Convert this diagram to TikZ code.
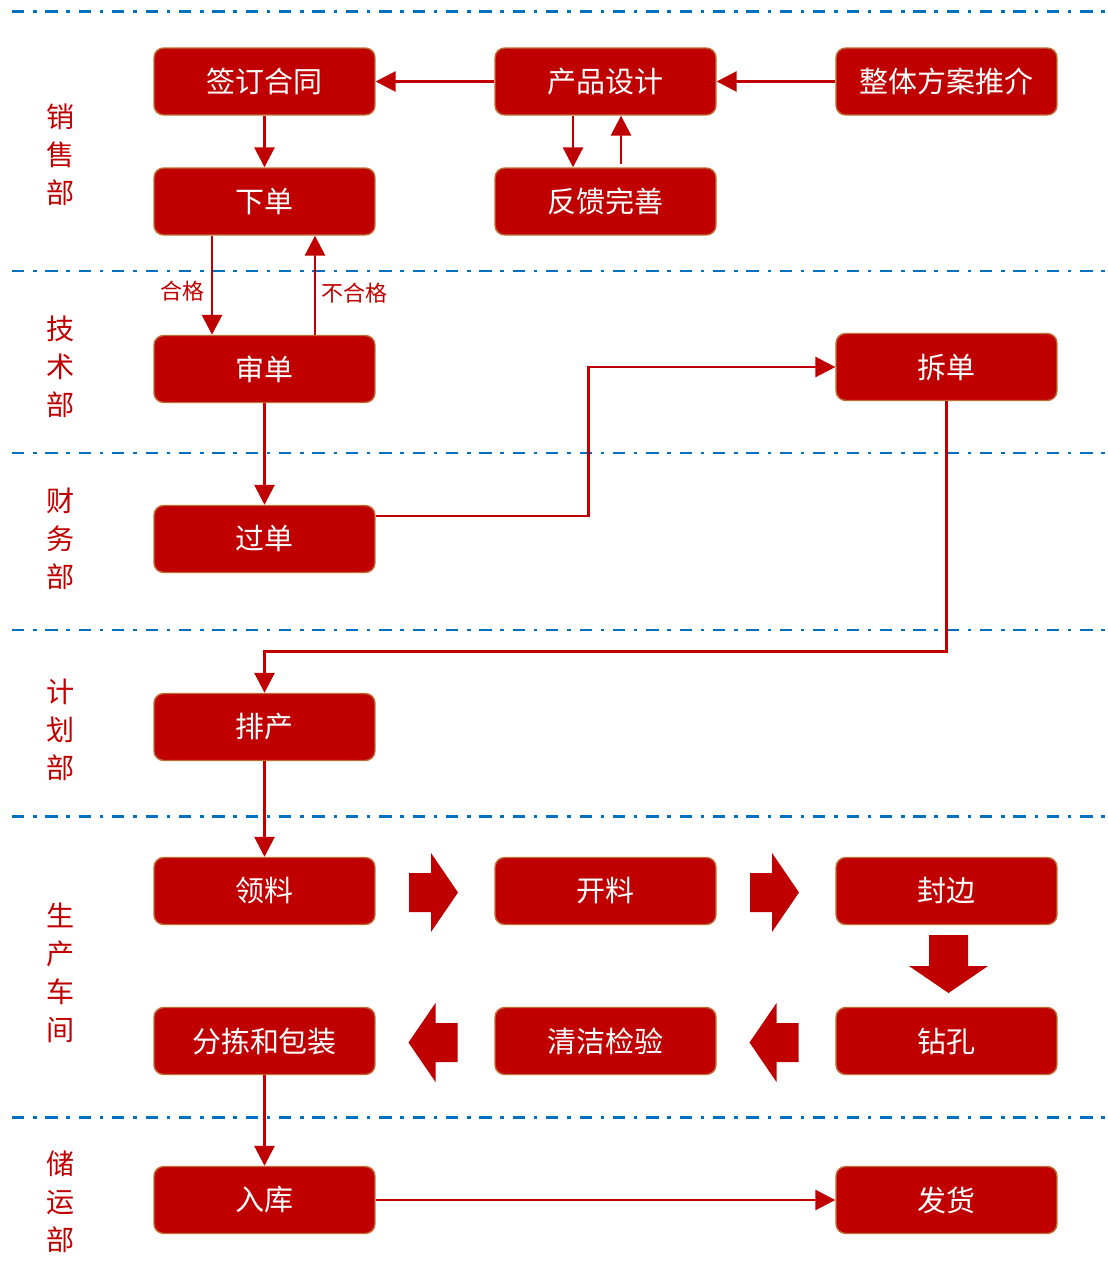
\documentclass[tikz,border=0pt]{standalone}
\usepackage{fontspec}
\setmainfont{Noto Sans CJK SC}
\usepackage{tikz}
\usetikzlibrary{arrows.meta}
\definecolor{boxred}{HTML}{C00000}
\definecolor{boxrim}{RGB}{190,110,50}
\definecolor{lineblue}{HTML}{0070C0}

\tikzset{
stepbox/.style={draw=boxrim, line width=0.8pt, fill=boxred, rounded corners=5.5pt,
  minimum width=4.42cm, minimum height=1.34cm, inner sep=0pt,
  text=white, font=\fontsize{16.5}{19}\selectfont},
flow/.style={draw=boxred, line width=1.6pt, -{Triangle[length=11.4pt,width=11.4pt]}},
lane/.style={text=boxred, align=center, font=\fontsize{16}{21.6}\selectfont},
cond/.style={text=boxred, font=\fontsize{12.5}{14}\selectfont, inner sep=1pt},
pics/blockarr/.style={code={
\fill[boxred] ({-#1/2},-19.5) -- ({#1/2-27},-19.5) -- ({#1/2-27},-39.5) -- ({#1/2},0)
  -- ({#1/2-27},39.5) -- ({#1/2-27},19.5) -- ({-#1/2},19.5) -- cycle;}}
}

\begin{document}
\begin{tikzpicture}[x=0.02cm,y=-0.02cm]
\useasboundingbox (0,0) rectangle (1107,1283);

% lanes
\foreach \y in {12,271,453,630,816,1117} {
\draw[lineblue, line width=1.7pt, dash pattern=on 7pt off 5pt on 2pt off 5pt] (12,\y) -- (1107,\y);
}
\foreach \y/\txt [count=\i] in {155/{销\\售\\部},367/{技\\术\\部},539/{财\\务\\部},729.5/{计\\划\\部},973/{生\\产\\车\\间},1202/{储\\运\\部}} {
\node[lane] (lane\i) at (61,\y) {\txt};
}

% boxes
\node[stepbox] (qianding) at (264.5,81.5) {签订合同};
\node[stepbox] (chanpin) at (605.5,81.5) {产品设计};
\node[stepbox] (zhengti) at (946.5,81.5) {整体方案推介};
\node[stepbox] (xiadan) at (264.5,201.5) {下单};
\node[stepbox] (fankui) at (605.5,201.5) {反馈完善};
\node[stepbox] (shendan) at (264.5,369) {审单};
\node[stepbox] (chaidan) at (946.5,367) {拆单};
\node[stepbox] (guodan) at (264.5,539) {过单};
\node[stepbox] (paichan) at (264.5,727) {排产};
\node[stepbox] (lingliao) at (264.5,891) {领料};
\node[stepbox] (kailiao) at (605.5,891) {开料};
\node[stepbox] (fengbian) at (946.5,891) {封边};
\node[stepbox] (fenjian) at (264.5,1041) {分拣和包装};
\node[stepbox] (qingjie) at (605.5,1041) {清洁检验};
\node[stepbox] (zuankong) at (946.5,1041) {钻孔};
\node[stepbox] (ruku) at (264.5,1200) {入库};
\node[stepbox] (fahuo) at (946.5,1200) {发货};

% connectors
\draw[flow] (zhengti.west) -- (chanpin.east);
\draw[flow] (chanpin.west) -- (qianding.east);
\draw[flow] (qianding.south) -- (xiadan.north);
\draw[flow] ([xshift=-0.65cm]chanpin.south) -- ([xshift=-0.65cm]fankui.north);
\draw[flow] ([xshift=0.31cm,yshift=0.06cm]fankui.north) -- ([xshift=0.31cm]chanpin.south);
\draw[flow] ([xshift=-1.05cm]xiadan.south) -- ([xshift=-1.05cm]shendan.north);
\draw[flow] ([xshift=1.01cm]shendan.north) -- ([xshift=1.01cm]xiadan.south);
\node[cond, anchor=east] (hege) at (207,291) {合格};
\node[cond, anchor=west] (buhege) at (319,293) {不合格};
\draw[flow] (shendan.south) -- (guodan.north);
\draw[flow] ([yshift=0.46cm]guodan.east) -| ([xshift=-4.94cm]chaidan.west) -- (chaidan.west);
\draw[flow] (chaidan.south) -- ++(0,250) -| (paichan.north);
\draw[flow] (paichan.south) -- (lingliao.north);
\draw[flow] (fenjian.south) -- (ruku.north);
\draw[flow] (ruku.east) -- (fahuo.west);

% block arrows
\pic at (433.5,892.5) {blockarr=49};
\pic at (774.5,892.5) {blockarr=49};
\pic[rotate=-90] at (948.5,964) {blockarr=58};
\pic[rotate=180] at (774,1042.5) {blockarr=49};
\pic[rotate=180] at (433,1042.5) {blockarr=49};

\end{tikzpicture}
\end{document}
